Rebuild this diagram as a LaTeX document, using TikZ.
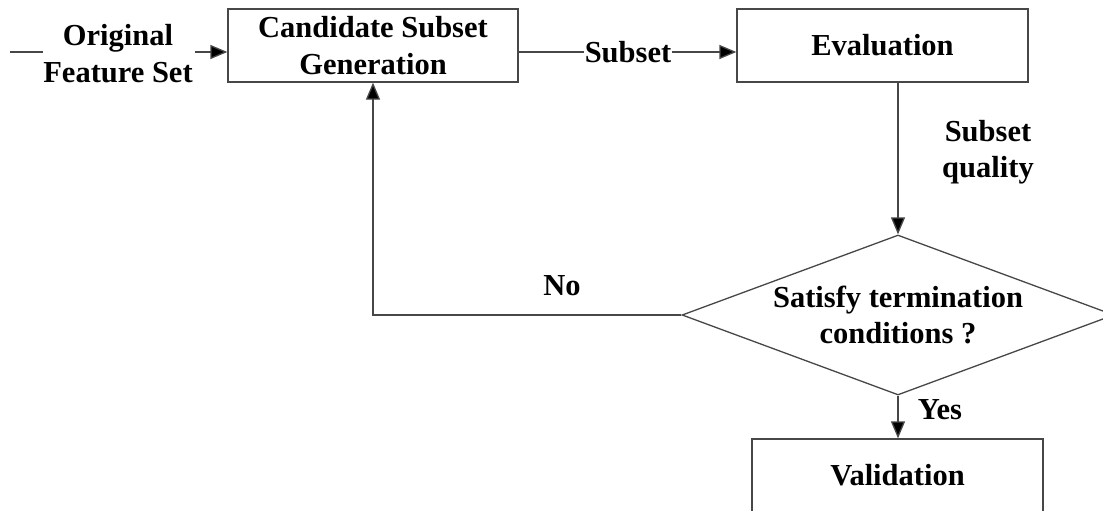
\documentclass[tikz,border=0pt]{standalone}
\usepackage{fontspec}
\setmainfont{Liberation Serif}
\usetikzlibrary{arrows.meta,shapes.geometric}
\tikzset{
  ln/.style={draw=black!72, line width=1.3pt},
  arr/.style={ln, -{Triangle[length=17pt,width=14pt,fill=black]}},
  box/.style={ln, rectangle, inner sep=0pt, align=center},
  lbl/.style={inner sep=1pt, align=center, text=black},
  txt/.style={font=\bfseries\fontsize{30.5}{36.5}\selectfont}
}
\begin{document}
\begin{tikzpicture}[x=1pt,y=-1pt,every node/.style={txt}]
\clip (0,0) rectangle (1103,511);
\fill[white] (0,0) rectangle (1103,511);
% nodes
\node[box, minimum width=290pt, minimum height=73pt] (cand) at (373,45.5) {Candidate Subset\\Generation};
\node[box, minimum width=291pt, minimum height=73pt] (eval) at (882.5,45.5) {Evaluation};
\node[ln, diamond, inner sep=0pt, aspect=2.7, minimum width=432pt, minimum height=160pt, align=center] (dec) at (898,315) {Satisfy termination\\conditions ?};
\node[box, minimum width=291pt, minimum height=73pt] (valid) at (897.5,475.5) {Validation};
\node[lbl, inner sep=0pt] (orig) at (118,53.5) {Original\\Feature Set};
\node[lbl] (sub) at (628,52) {Subset};
\node[lbl] (qual) at (988,152) {Subset\\quality};
\node[lbl] (no) at (562,286) {No};
\node[lbl] (yes) at (940,410) {Yes};
% connectors
\coordinate (in0) at (10,52);
\draw[ln] (in0) -- (in0 -| orig.west);
\draw[arr] ([xshift=2pt]in0 -| orig.east) -- (in0 -| cand.west);
\draw[ln] (in0 -| cand.east) -- (in0 -| sub.west);
\draw[arr] (in0 -| sub.east) -- (in0 -| eval.west);
\draw[arr] (eval.south -| dec.north) -- (dec.north);
\draw[arr] (dec.west) -| (cand.south);
\draw[arr] (dec.south) -- (dec.south |- valid.north);
\end{tikzpicture}
\end{document}
